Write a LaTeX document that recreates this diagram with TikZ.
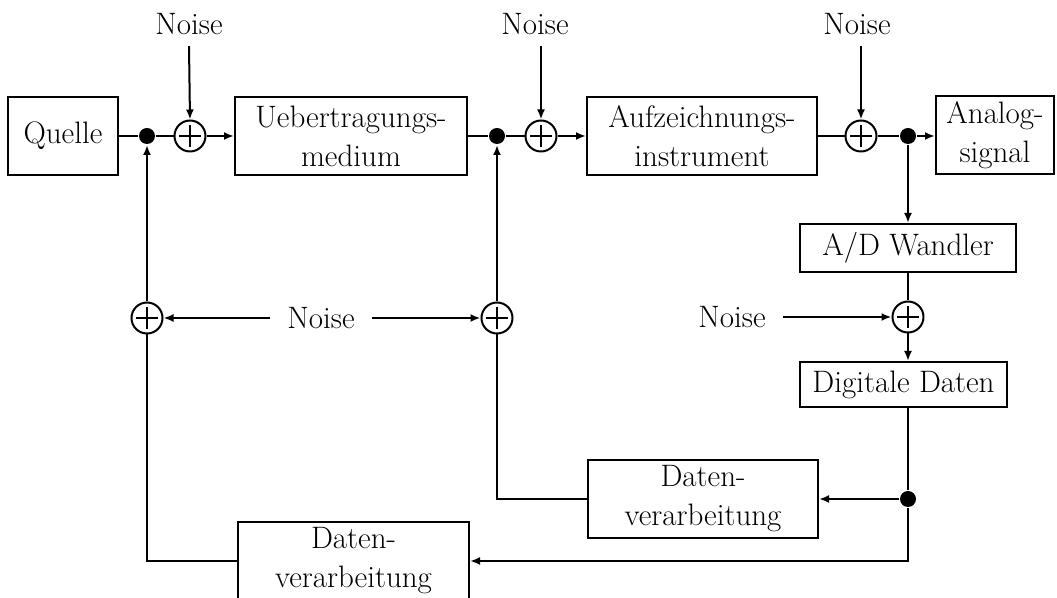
\documentclass[tikz,border=0pt]{standalone}
\usetikzlibrary{arrows.meta}
\begin{document}
\begin{tikzpicture}[x=0.5pt,y=-0.5pt, line width=1pt,
  font=\fontsize{15.5}{19.5}\selectfont,
  box/.style={draw, line width=1pt, align=center, inner sep=0pt},
  sumnode/.style={draw, circle, minimum size=15.5pt, inner sep=0pt,
    path picture={
      \draw[line width=0.8pt] ([xshift=-5.5pt]path picture bounding box.center) -- ([xshift=5.5pt]path picture bounding box.center);
      \draw[line width=0.8pt] ([yshift=-5.5pt]path picture bounding box.center) -- ([yshift=5.5pt]path picture bounding box.center);}},
  junction/.style={circle, fill, minimum size=8pt, inner sep=0pt},
  flow/.style={-{Latex[length=5pt,width=4pt]}},
  noiselabel/.style={inner sep=0pt}]
\useasboundingbox (0,0) rectangle (1057,598);

% main row boxes
\node[box, minimum width=55pt, minimum height=39pt] (quelle) at (63,136) {Quelle};
\node[box, minimum width=116pt, minimum height=39pt] (ueber) at (351,136) {Uebertragungs-\\medium};
\node[box, minimum width=115pt, minimum height=39pt] (aufz) at (702,136) {Aufzeichnungs-\\instrument};
\node[box, minimum width=59pt, minimum height=39pt] (analog) at (995,135) {Analog-\\signal};

% right column
\node[box, minimum width=108pt, minimum height=24pt] (ad) at (908,248) {A/D Wandler};
\node[box, minimum width=103.5pt, minimum height=22.5pt] (digi) at (903.5,384.5) {Digitale Daten};

% processing boxes
\node[box, minimum width=115pt, minimum height=39pt] (datr) at (703,499) {Daten-\\verarbeitung};
\node[box, minimum width=115.5pt, minimum height=39pt] (datl) at (353.5,561) {Daten-\\verarbeitung};

% junctions
\node[junction] (d1) at (147,136) {};
\node[junction] (d2) at (497,136) {};
\node[junction] (d3) at (908,136) {};
\node[junction] (d4) at (908,499) {};

% summing points
\node[sumnode] (s1) at (190,136) {};
\node[sumnode] (s2) at (541,136) {};
\node[sumnode] (s3) at (861,136) {};
\node[sumnode] (s4) at (908,317) {};
\node[sumnode] (s5) at (497,318) {};
\node[sumnode] (s6) at (147,318) {};

% noise labels
\node[noiselabel] (n1) at (189,24.5) {Noise};
\node[noiselabel] (n2) at (535,24) {Noise};
\node[noiselabel] (n3) at (857,24) {Noise};
\node[noiselabel] (nm) at (321,318) {Noise};
\node[noiselabel] (n4) at (732,317) {Noise};

% main row
\draw (quelle.east) -- (d1) -- (s1.west);
\draw[flow] (s1.east) -- (ueber.west);
\draw (ueber.east) -- (d2) -- (s2.west);
\draw[flow] (s2.east) -- (aufz.west);
\draw (aufz.east) -- (s3.west);
\draw (s3.east) -- (d3);
\draw[flow] (d3) -- (d3 -| analog.west);

% noise inputs
\draw[flow] ([yshift=-5pt]n1.south) -- (s1.north);
\draw[flow] ([yshift=-5pt]n2.south -| s2.north) -- (s2.north);
\draw[flow] ([yshift=-5pt]n3.south -| s3.north) -- (s3.north);
\draw[flow] ([xshift=-8pt]nm.west) -- (s6.east);
\draw[flow] ([xshift=8pt]nm.east) -- (s5.west);
\draw[flow] ([xshift=8pt]n4.east) -- (s4.west);

% right column
\draw[flow] (d3) -- (ad.north);
\draw (ad.south) -- (s4.north);
\draw[flow] (s4.south) -- (s4.south |- digi.north);
\draw (d4 |- digi.south) -- (d4);
\draw[flow] (d4) -- (datr.east);
\draw[flow] (d4) |- (datl.east);

% feedback
\draw (datr.west) -| (s5.south);
\draw[flow] (s5.north) -- (d2);
\draw (datl.west) -| (s6.south);
\draw[flow] (s6.north) -- (d1);
\end{tikzpicture}
\end{document}
